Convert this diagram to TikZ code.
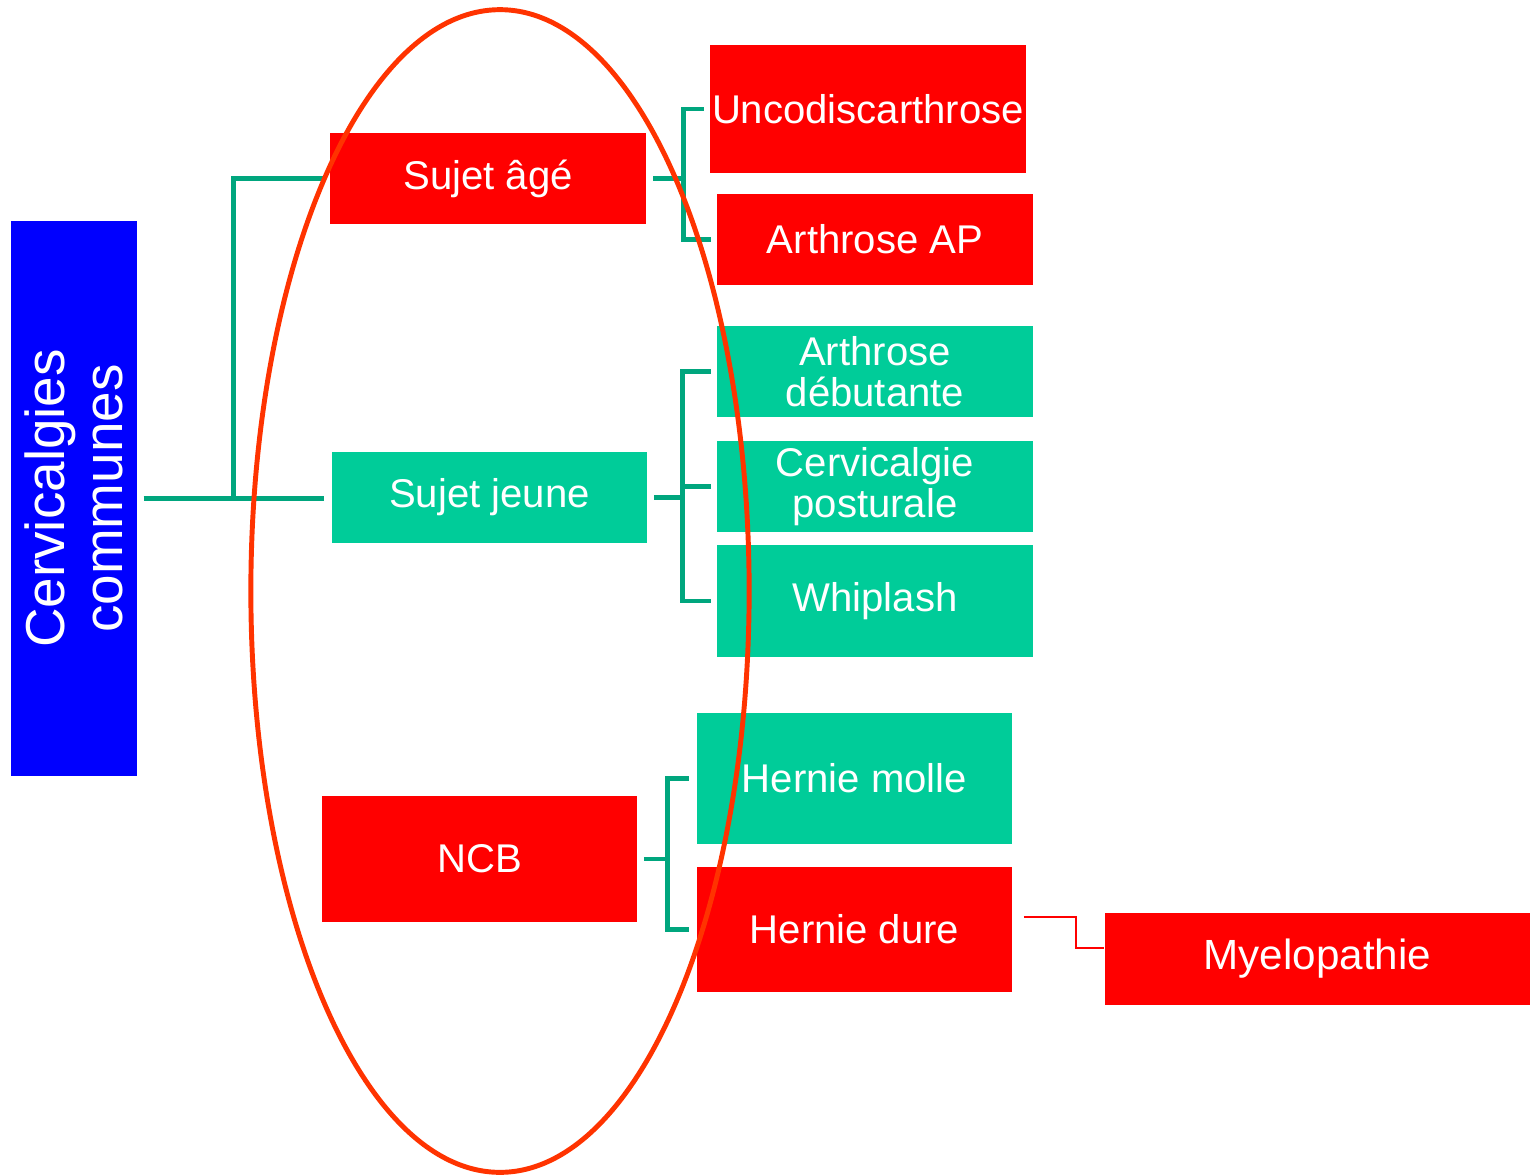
\documentclass[tikz,border=0pt]{standalone}
\usepackage{fontspec}
\setmainfont{Liberation Sans}
\usetikzlibrary{calc}

\definecolor{boxred}{HTML}{FF0000}
\definecolor{boxgreen}{HTML}{00CC99}
\definecolor{boxblue}{HTML}{0000FF}
\definecolor{linkgreen}{HTML}{00A67E}
\definecolor{ovalred}{HTML}{FF3300}

\tikzset{
  box/.style={inner sep=0pt, text=white, align=center,
    minimum width=3.15cm, font=\fontsize{11.4}{11.6}\selectfont},
  redbox/.style={box, fill=boxred},
  greenbox/.style={box, fill=boxgreen},
  link/.style={linkgreen, line width=1.35pt},
}

\begin{document}
\begin{tikzpicture}[x=0.01cm, y=-0.01cm]
  \useasboundingbox (0,0) rectangle (1530,1175);

  % root
  \node[box, fill=boxblue, rotate=90, minimum width=5.55cm, minimum height=1.26cm,
    font=\fontsize{15.6}{16.6}\selectfont] (cerv) at (74,498.5) {Cervicalgies\\communes};

  % second level
  \node[redbox, minimum height=0.91cm] (age) at (488,178.5) {Sujet âgé};
  \node[greenbox, minimum height=0.91cm] (jeune) at (489.5,497.5) {Sujet jeune};
  \node[redbox, minimum height=1.26cm] (ncb) at (479.5,859) {NCB};

  % third level
  \node[redbox, minimum height=1.28cm] (unco) at (868,109) {Uncodiscarthrose};
  \node[redbox, minimum height=0.91cm] (arthap) at (875,239.5) {Arthrose AP};
  \node[greenbox, minimum height=0.91cm] (arthdeb) at (875,371.5) {Arthrose\\débutante};
  \node[greenbox, minimum height=0.91cm] (posture) at (875,486.5) {Cervicalgie\\posturale};
  \node[greenbox, minimum height=1.12cm] (whip) at (875,601) {Whiplash};
  \node[greenbox, minimum height=1.31cm] (molle) at (854.5,778.5) {Hernie molle};
  \node[redbox, minimum height=1.25cm] (dure) at (854.5,929.5) {Hernie dure};
  \node[redbox, minimum width=4.25cm, minimum height=0.92cm,
    font=\fontsize{12}{13}\selectfont] (myelo) at (1317.5,959) {Myelopathie};

  % links
  \draw[link] ($(cerv.south)+(6,0)$) -- ++(90,0) coordinate (trunk) |- ($(age.west)+(-6,0)$);
  \draw[link] (trunk) -- ($(trunk -| jeune.west)+(-7,0)$);

  \draw[link] ($(age.east)+(7,0)$) -- ++(30,0) coordinate (forkage) |- ($(unco.west)+(-6,0)$);
  \draw[link] (forkage) |- ($(arthap.west)+(-6,0)$);

  \draw[link] ($(jeune.east)+(6,0)$) -- ++(29,0) coordinate (forkjeune) |- ($(arthdeb.west)+(-6,0)$);
  \draw[link] (forkjeune) |- ($(posture.west)+(-6,0)$);
  \draw[link] (forkjeune) |- ($(whip.west)+(-6,0)$);

  \draw[link] ($(ncb.east)+(6,0)$) -- ++(24,0) coordinate (forkncb) |- ($(molle.west)+(-7,0)$);
  \draw[link] (forkncb) |- ($(dure.west)+(-7,0)$);

  \draw[boxred, line width=0.6pt] ($(dure.east)+(11,-12.5)$) -- ++(52,0) |- ($(myelo.west)+(0,-11)$);

  % oval
  \draw[ovalred, line width=1.4pt] (500,591) ellipse [x radius=2.49cm, y radius=5.81cm];
\end{tikzpicture}
\end{document}
